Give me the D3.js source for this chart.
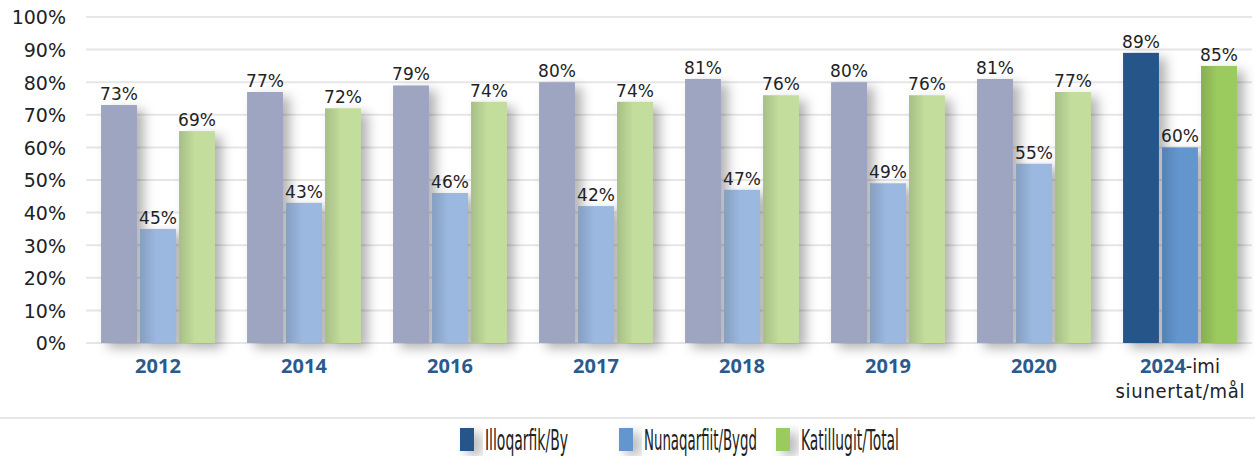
<!DOCTYPE html>
<html>
<head>
<meta charset="utf-8">
<script src="https://cdn.jsdelivr.net/npm/d3@7"></script>
<style>
  body { margin: 0; background: #fff; }
  svg { display: block; }
</style>
</head>
<body>
<svg id="chart"></svg>
<script>
// data
var years = ['2012', '2014', '2016', '2017', '2018', '2019', '2020', '2024'];
var series = ['Illoqarfik/By', 'Nunaqarfiit/Bygd', 'Katillugit/Total'];
var byValues    = [73, 77, 79, 80, 81, 80, 81, 89];
var bygdValues  = [35, 43, 46, 42, 47, 49, 55, 60];
var totalValues = [65, 72, 74, 74, 76, 76, 77, 85];
// printed labels (2012 labels differ from bar heights in the original)
var byLabels    = ['73%', '77%', '79%', '80%', '81%', '80%', '81%', '89%'];
var bygdLabels  = ['45%', '43%', '46%', '42%', '47%', '49%', '55%', '60%'];
var totalLabels = ['69%', '72%', '74%', '74%', '76%', '76%', '77%', '85%'];
var yTicks = [0, 10, 20, 30, 40, 50, 60, 70, 80, 90, 100];

var width = 1255, height = 457;
var oldColors = ['#9da5c1', '#9bb8e0', '#c2dd9c'];
var newColors = ['#265689', '#6396cf', '#9bcb5e'];
var narrow = 'Liberation Sans Narrow, DejaVu Sans Condensed, sans-serif';

var svg = d3.select('#chart')
  .attr('width', width)
  .attr('height', height);

var defs = svg.append('defs');
var shadow = defs.append('filter')
  .attr('id', 'shadow')
  .attr('x', '-30%').attr('y', '-10%')
  .attr('width', '190%').attr('height', '130%');
shadow.append('feDropShadow')
  .attr('dx', 7).attr('dy', 5)
  .attr('stdDeviation', 6)
  .attr('flood-color', '#000')
  .attr('flood-opacity', 0.3);

var shade = defs.append('linearGradient')
  .attr('id', 'shade')
  .attr('x1', 0).attr('x2', 1).attr('y1', 0).attr('y2', 0);
shade.append('stop').attr('offset', '0%').attr('stop-color', '#000').attr('stop-opacity', 0.14);
shade.append('stop').attr('offset', '45%').attr('stop-color', '#000').attr('stop-opacity', 0);

var x0 = d3.scaleBand()
  .domain(years)
  .range([85, 1253])
  .paddingInner(0.22)
  .paddingOuter(0.11);

var x1 = d3.scaleBand()
  .domain(series)
  .range([0, x0.bandwidth()])
  .paddingInner(0.08);

var y = d3.scaleLinear()
  .domain([0, 100])
  .range([343, 17]);

// grid
svg.append('g')
  .selectAll('line')
  .data(yTicks)
  .enter().append('line')
    .attr('x1', 86)
    .attr('x2', 1252)
    .attr('y1', function(d) { return y(d); })
    .attr('y2', function(d) { return y(d); })
    .attr('stroke', '#e6e6e6')
    .attr('stroke-width', 2);

// y axis labels
var yAxis = svg.append('g')
  .attr('transform', 'translate(66,0)')
  .call(d3.axisLeft(y).tickValues(yTicks).tickSize(0).tickPadding(0)
    .tickFormat(function(d) { return d + '%'; }));
yAxis.select('.domain').remove();
yAxis.selectAll('text')
  .attr('font-family', 'DejaVu Sans, sans-serif')
  .attr('font-size', 19)
  .attr('fill', '#222')
  .attr('dy', '0.36em');

var rows = years.map(function(yr, i) {
  return {
    year: yr,
    vals: [byValues[i], bygdValues[i], totalValues[i]],
    labels: [byLabels[i], bygdLabels[i], totalLabels[i]],
    last: i === years.length - 1
  };
});

var groups = svg.append('g')
  .selectAll('g')
  .data(rows)
  .enter().append('g')
    .attr('transform', function(d) { return 'translate(' + x0(d.year) + ',0)'; });

var bars = groups.selectAll('g.bar')
  .data(function(d) {
    return series.map(function(s, j) {
      return { s: s, j: j, v: d.vals[j], label: d.labels[j], last: d.last };
    });
  })
  .enter().append('g')
    .attr('class', 'bar');

bars.append('rect')
  .attr('x', function(d) { return x1(d.s); })
  .attr('y', function(d) { return y(d.v); })
  .attr('width', x1.bandwidth())
  .attr('height', function(d) { return y(0) - y(d.v); })
  .attr('fill', function(d) { return d.last ? newColors[d.j] : oldColors[d.j]; })
  .attr('filter', 'url(#shadow)');

// darker left edge on the 2nd and 3rd bar (shadow of neighbour)
bars.filter(function(d) { return d.j > 0; })
  .append('rect')
    .attr('x', function(d) { return x1(d.s); })
    .attr('y', function(d) { return y(d.v); })
    .attr('width', x1.bandwidth())
    .attr('height', function(d) { return y(0) - y(d.v); })
    .attr('fill', 'url(#shade)');

bars.append('text')
  .attr('x', function(d) { return x1(d.s) + x1.bandwidth() / 2; })
  .attr('y', function(d) { return y(d.v) - 5; })
  .attr('text-anchor', 'middle')
  .attr('font-family', 'DejaVu Sans, sans-serif')
  .attr('font-size', 17)
  .attr('fill', '#222')
  .text(function(d) { return d.label; });

// x labels
var xl = groups.append('text')
  .attr('x', x0.bandwidth() / 2)
  .attr('y', 373)
  .attr('text-anchor', 'middle')
  .attr('font-family', 'Open Sans, sans-serif')
  .attr('font-size', 20);
xl.append('tspan')
  .attr('font-weight', 'bold')
  .attr('fill', '#2b5a8c')
  .text(function(d) { return d.year; });
xl.filter(function(d) { return d.last; })
  .append('tspan')
    .attr('fill', '#222')
    .attr('font-family', narrow)
    .attr('font-size', 20)
    .text('-imi');
groups.filter(function(d) { return d.last; })
  .append('text')
    .attr('x', x0.bandwidth() / 2)
    .attr('y', 398)
    .attr('text-anchor', 'middle')
    .attr('font-family', narrow)
    .attr('font-size', 20)
    .attr('fill', '#222')
    .attr('textLength', 129)
    .text('siunertat/mål');

// separator
svg.append('line')
  .attr('x1', 0).attr('x2', width)
  .attr('y1', 418).attr('y2', 418)
  .attr('stroke', '#e6e6e6')
  .attr('stroke-width', 2);

// legend
var legendX = [460, 619, 776];
var legendW = [83, 113, 98];
var legend = svg.append('g')
  .selectAll('g')
  .data(series)
  .enter().append('g')
    .attr('transform', function(d, i) { return 'translate(' + legendX[i] + ',428)'; });
legend.append('rect')
  .attr('width', 14)
  .attr('height', 23)
  .attr('fill', function(d, i) { return newColors[i]; })
  .attr('filter', 'url(#shadow)');
legend.append('text')
  .attr('font-family', narrow)
  .attr('font-size', 28)
  .attr('fill', '#222')
  .text(function(d) { return d; })
  .attr('transform', function(d, i) {
    var w = this.getComputedTextLength();
    return 'translate(25,22) scale(' + (legendW[i] / w) + ',1)';
  });
</script>
</body>
</html>
